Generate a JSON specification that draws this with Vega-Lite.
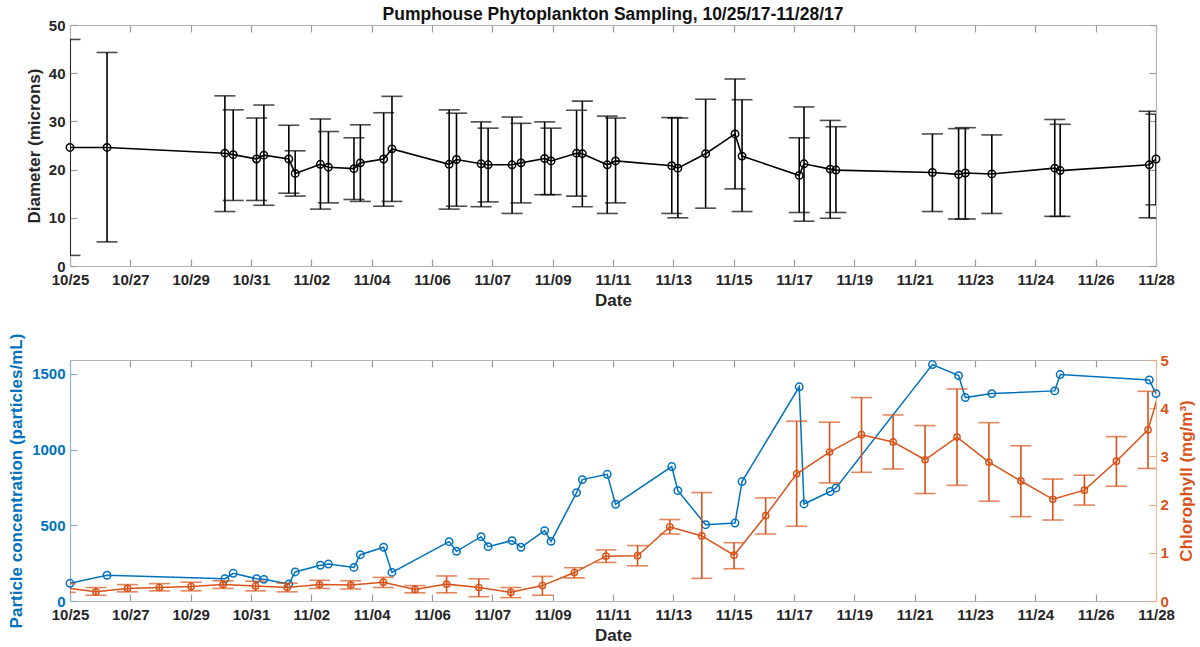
{
  "$schema": "https://vega.github.io/schema/vega-lite/v6.json",
  "background": "white",
  "padding": {"left": 7, "top": 5, "right": 2, "bottom": 2},
  "config": {
    "view": {"stroke": null},
    "font": "Liberation Sans",
    "axis": {
      "labelFont": "Liberation Sans", "labelFontSize": 15, "labelFontWeight": "bold", "labelColor": "#262626",
      "titleFont": "Liberation Sans", "titleFontSize": 17, "titleFontWeight": "bold", "titleColor": "#262626",
      "grid": false, "domainColor": "#b4b4b4", "domainWidth": 1.2, "tickColor": "#9a9a9a", "tickWidth": 1.2,
      "tickSize": -7, "labelPadding": 12
    }
  },
  "datasets": {
    "samples": [
      {"day": 0, "diam": 24.6, "dlo": 2.2, "dhi": 47.0, "conc": 117},
      {"day": 1.16, "diam": 24.6, "dlo": 5.0, "dhi": 44.3, "conc": 170},
      {"day": 4.85, "diam": 23.4, "dlo": 11.3, "dhi": 35.3, "conc": 147},
      {"day": 5.11, "diam": 23.1, "dlo": 13.6, "dhi": 32.4, "conc": 183},
      {"day": 5.84, "diam": 22.2, "dlo": 13.6, "dhi": 30.7, "conc": 147},
      {"day": 6.07, "diam": 23.0, "dlo": 12.6, "dhi": 33.4, "conc": 143},
      {"day": 6.85, "diam": 22.2, "dlo": 15.1, "dhi": 29.2, "conc": 112},
      {"day": 7.05, "diam": 19.2, "dlo": 14.5, "dhi": 23.9, "conc": 192},
      {"day": 7.84, "diam": 21.1, "dlo": 11.8, "dhi": 30.5, "conc": 236},
      {"day": 8.09, "diam": 20.5, "dlo": 13.1, "dhi": 27.9, "conc": 244},
      {"day": 8.89, "diam": 20.2, "dlo": 13.8, "dhi": 26.6, "conc": 222},
      {"day": 9.09, "diam": 21.4, "dlo": 13.4, "dhi": 29.3, "conc": 306},
      {"day": 9.82, "diam": 22.2, "dlo": 12.4, "dhi": 31.8, "conc": 355},
      {"day": 10.08, "diam": 24.3, "dlo": 13.4, "dhi": 35.2, "conc": 189},
      {"day": 11.87, "diam": 21.1, "dlo": 11.8, "dhi": 32.4, "conc": 392},
      {"day": 12.1, "diam": 22.1, "dlo": 12.4, "dhi": 31.7, "conc": 328},
      {"day": 12.87, "diam": 21.2, "dlo": 12.3, "dhi": 29.9, "conc": 425},
      {"day": 13.09, "diam": 21.0, "dlo": 13.3, "dhi": 28.6, "conc": 359},
      {"day": 13.84, "diam": 21.0, "dlo": 10.9, "dhi": 30.9, "conc": 399},
      {"day": 14.12, "diam": 21.4, "dlo": 13.1, "dhi": 29.6, "conc": 355},
      {"day": 14.86, "diam": 22.3, "dlo": 14.8, "dhi": 29.9, "conc": 465},
      {"day": 15.06, "diam": 21.8, "dlo": 14.8, "dhi": 28.6, "conc": 394},
      {"day": 15.86, "diam": 23.4, "dlo": 14.5, "dhi": 32.3, "conc": 716},
      {"day": 16.04, "diam": 23.3, "dlo": 12.3, "dhi": 34.2, "conc": 802},
      {"day": 16.82, "diam": 21.0, "dlo": 10.9, "dhi": 31.1, "conc": 837},
      {"day": 17.08, "diam": 21.8, "dlo": 13.1, "dhi": 30.7, "conc": 639},
      {"day": 18.84, "diam": 20.8, "dlo": 10.9, "dhi": 30.8, "conc": 888},
      {"day": 19.03, "diam": 20.3, "dlo": 10.0, "dhi": 30.7, "conc": 729},
      {"day": 19.9, "diam": 23.3, "dlo": 12.0, "dhi": 34.6, "conc": 504},
      {"day": 20.82, "diam": 27.4, "dlo": 16.0, "dhi": 38.8, "conc": 515},
      {"day": 21.04, "diam": 22.8, "dlo": 11.3, "dhi": 34.5, "conc": 789},
      {"day": 22.83, "diam": 18.8, "dlo": 11.1, "dhi": 26.6, "conc": 1415},
      {"day": 22.98, "diam": 21.2, "dlo": 9.3, "dhi": 33.0, "conc": 641},
      {"day": 23.8, "diam": 20.1, "dlo": 9.9, "dhi": 30.2, "conc": 723},
      {"day": 23.98, "diam": 19.9, "dlo": 11.1, "dhi": 28.9, "conc": 747},
      {"day": 27.0, "diam": 19.4, "dlo": 11.3, "dhi": 27.4, "conc": 1562},
      {"day": 27.82, "diam": 19.0, "dlo": 9.75, "dhi": 28.5, "conc": 1489},
      {"day": 28.03, "diam": 19.3, "dlo": 9.75, "dhi": 28.7, "conc": 1344},
      {"day": 28.86, "diam": 19.1, "dlo": 10.9, "dhi": 27.2, "conc": 1370},
      {"day": 30.83, "diam": 20.3, "dlo": 10.3, "dhi": 30.4, "conc": 1388},
      {"day": 31.0, "diam": 19.8, "dlo": 10.3, "dhi": 29.4, "conc": 1496},
      {"day": 33.79, "diam": 21.0, "dlo": 10.0, "dhi": 32.1, "conc": 1460},
      {"day": 34.0, "diam": 22.2, "dlo": 12.7, "dhi": 31.5, "conc": 1370}
    ],
    "chlorophyll": [
      {"day": -0.15, "chl": 0.27, "clo": 0.18, "chi": 0.36},
      {"day": 0.81, "chl": 0.19, "clo": 0.12, "chi": 0.28},
      {"day": 1.8, "chl": 0.26, "clo": 0.19, "chi": 0.34},
      {"day": 2.8, "chl": 0.28, "clo": 0.21, "chi": 0.36},
      {"day": 3.79, "chl": 0.30, "clo": 0.21, "chi": 0.39},
      {"day": 4.79, "chl": 0.34, "clo": 0.26, "chi": 0.42},
      {"day": 5.81, "chl": 0.31, "clo": 0.21, "chi": 0.41},
      {"day": 6.8, "chl": 0.28, "clo": 0.19, "chi": 0.37},
      {"day": 7.81, "chl": 0.34, "clo": 0.26, "chi": 0.43},
      {"day": 8.79, "chl": 0.33, "clo": 0.25, "chi": 0.42},
      {"day": 9.81, "chl": 0.39, "clo": 0.28, "chi": 0.49},
      {"day": 10.8, "chl": 0.24, "clo": 0.17, "chi": 0.32},
      {"day": 11.79, "chl": 0.35, "clo": 0.17, "chi": 0.52},
      {"day": 12.8, "chl": 0.28, "clo": 0.09, "chi": 0.46},
      {"day": 13.8, "chl": 0.18, "clo": 0.07, "chi": 0.28},
      {"day": 14.79, "chl": 0.32, "clo": 0.12, "chi": 0.51},
      {"day": 15.79, "chl": 0.59, "clo": 0.48, "chi": 0.69},
      {"day": 16.78, "chl": 0.93, "clo": 0.80, "chi": 1.06},
      {"day": 17.77, "chl": 0.94, "clo": 0.73, "chi": 1.15},
      {"day": 18.78, "chl": 1.54, "clo": 1.39, "chi": 1.69},
      {"day": 19.78, "chl": 1.35, "clo": 0.47, "chi": 2.25},
      {"day": 20.79, "chl": 0.95, "clo": 0.67, "chi": 1.21},
      {"day": 21.78, "chl": 1.77, "clo": 1.39, "chi": 2.14},
      {"day": 22.75, "chl": 2.64, "clo": 1.55, "chi": 3.73},
      {"day": 23.78, "chl": 3.09, "clo": 2.45, "chi": 3.71},
      {"day": 24.78, "chl": 3.45, "clo": 2.67, "chi": 4.22},
      {"day": 25.77, "chl": 3.30, "clo": 2.74, "chi": 3.86},
      {"day": 26.77, "chl": 2.93, "clo": 2.23, "chi": 3.64},
      {"day": 27.77, "chl": 3.40, "clo": 2.40, "chi": 4.40},
      {"day": 28.77, "chl": 2.88, "clo": 2.07, "chi": 3.70},
      {"day": 29.77, "chl": 2.49, "clo": 1.75, "chi": 3.22},
      {"day": 30.77, "chl": 2.11, "clo": 1.68, "chi": 2.53},
      {"day": 31.76, "chl": 2.30, "clo": 1.99, "chi": 2.61},
      {"day": 32.76, "chl": 2.90, "clo": 2.38, "chi": 3.41},
      {"day": 33.75, "chl": 3.55, "clo": 2.75, "chi": 4.35},
      {"day": 34.75, "chl": 5.8, "clo": 5.0, "chi": 6.6}
    ]
  },
  "spacing": 94,
  "bounds": "flush",
  "vconcat": [
    {
      "width": 1086,
      "height": 241,
      "title": {"text": "Pumphouse Phytoplankton Sampling, 10/25/17-11/28/17", "font": "Liberation Sans", "fontSize": 17.5, "fontWeight": "bold", "color": "#111111", "offset": -5, "anchor": "middle"},
      "data": {"name": "samples"},
      "layer": [
        {
          "mark": {"type": "rule", "clip": true, "color": "black", "strokeWidth": 1.6},
          "encoding": {
            "x": {"field": "day", "type": "quantitative", "scale": {"domain": [0, 34], "nice": false, "zero": false},
                  "axis": {"orient": "bottom", "title": "Date", "titlePadding": 5, "labelPadding": 13, "values": [0, 1.888889, 3.777778, 5.666667, 7.555556, 9.444444, 11.333333, 13.222222, 15.111111, 17, 18.888889, 20.777778, 22.666667, 24.555556, 26.444444, 28.333333, 30.222222, 32.111111, 34], "labelExpr": "['10/25','10/27','10/29','10/31','11/02','11/04','11/06','11/07','11/09','11/11','11/13','11/15','11/17','11/19','11/21','11/23','11/24','11/26','11/28'][round(datum.value*18/34)]", "labelFlush": false}},
            "y": {"field": "dlo", "type": "quantitative", "scale": {"domain": [0, 50], "nice": false},
                  "axis": {"orient": "left", "title": "Diameter (microns)", "values": [0, 10, 20, 30, 40, 50], "titlePadding": 5}},
            "y2": {"field": "dhi"}
          }
        },
        {
          "mark": {"type": "tick", "orient": "horizontal", "clip": true, "color": "black", "size": 21, "thickness": 1.6},
          "encoding": {
            "x": {"field": "day", "type": "quantitative", "axis": null},
            "y": {"field": "dlo", "type": "quantitative", "axis": null}
          }
        },
        {
          "mark": {"type": "tick", "orient": "horizontal", "clip": true, "color": "black", "size": 21, "thickness": 1.6},
          "encoding": {
            "x": {"field": "day", "type": "quantitative", "axis": null},
            "y": {"field": "dhi", "type": "quantitative", "axis": null}
          }
        },
        {
          "mark": {"type": "line", "clip": true, "color": "black", "strokeWidth": 1.6},
          "encoding": {
            "x": {"field": "day", "type": "quantitative",
                  "axis": {"orient": "top", "labels": false, "title": null, "values": [0, 1.888889, 3.777778, 5.666667, 7.555556, 9.444444, 11.333333, 13.222222, 15.111111, 17, 18.888889, 20.777778, 22.666667, 24.555556, 26.444444, 28.333333, 30.222222, 32.111111, 34]}},
            "y": {"field": "diam", "type": "quantitative",
                  "axis": {"orient": "right", "labels": false, "title": null, "values": [0, 10, 20, 30, 40, 50]}}
          }
        },
        {
          "mark": {"type": "point", "shape": "circle", "filled": false, "size": 55, "strokeWidth": 1.5, "color": "black", "opacity": 1},
          "encoding": {
            "x": {"field": "day", "type": "quantitative", "axis": null},
            "y": {"field": "diam", "type": "quantitative", "axis": null}
          }
        }
      ],
      "resolve": {"axis": {"x": "independent", "y": "independent"}}
    },
    {
      "width": 1086,
      "height": 241,
      "layer": [
        {
          "data": {"name": "samples"},
          "mark": {"type": "line", "clip": true, "color": "#0072BD", "strokeWidth": 1.5},
          "encoding": {
            "x": {"field": "day", "type": "quantitative", "scale": {"domain": [0, 34], "nice": false, "zero": false},
                  "axis": {"orient": "bottom", "title": "Date", "titlePadding": 5, "labelPadding": 13, "values": [0, 1.888889, 3.777778, 5.666667, 7.555556, 9.444444, 11.333333, 13.222222, 15.111111, 17, 18.888889, 20.777778, 22.666667, 24.555556, 26.444444, 28.333333, 30.222222, 32.111111, 34], "labelExpr": "['10/25','10/27','10/29','10/31','11/02','11/04','11/06','11/07','11/09','11/11','11/13','11/15','11/17','11/19','11/21','11/23','11/24','11/26','11/28'][round(datum.value*18/34)]", "labelFlush": false}},
            "y": {"field": "conc", "type": "quantitative", "scale": {"domain": [0, 1592], "nice": false},
                  "axis": {"orient": "left", "title": "Particle concentration (particles/mL)", "values": [0, 500, 1000, 1500], "format": "d", "labelColor": "#0072BD", "titleColor": "#0072BD", "domainColor": "#8ab6da", "tickColor": "#7fb0d8", "titlePadding": 6}}
          }
        },
        {
          "data": {"name": "samples"},
          "mark": {"type": "point", "shape": "circle", "filled": false, "size": 55, "strokeWidth": 1.5, "color": "#0072BD", "opacity": 1},
          "encoding": {
            "x": {"field": "day", "type": "quantitative", "axis": null},
            "y": {"field": "conc", "type": "quantitative", "scale": {"domain": [0, 1592], "nice": false}, "axis": null}
          }
        },
        {
          "data": {"name": "chlorophyll"},
          "mark": {"type": "rule", "clip": true, "color": "#D95319", "strokeWidth": 1.6},
          "encoding": {
            "x": {"field": "day", "type": "quantitative",
                  "axis": {"orient": "top", "labels": false, "title": null, "values": [0, 1.888889, 3.777778, 5.666667, 7.555556, 9.444444, 11.333333, 13.222222, 15.111111, 17, 18.888889, 20.777778, 22.666667, 24.555556, 26.444444, 28.333333, 30.222222, 32.111111, 34]}},
            "y": {"field": "clo", "type": "quantitative", "scale": {"domain": [0, 5], "nice": false},
                  "axis": {"orient": "right", "title": "Chlorophyll (mg/m³)", "values": [0, 1, 2, 3, 4, 5], "labelColor": "#D95319", "titleColor": "#D95319", "domainColor": "#ecb89e", "tickColor": "#e6a98a", "titleAngle": -90, "titleBaseline": "top", "titlePadding": 10, "labelPadding": 11}},
            "y2": {"field": "chi"}
          }
        },
        {
          "data": {"name": "chlorophyll"},
          "mark": {"type": "tick", "orient": "horizontal", "clip": true, "color": "#D95319", "size": 21, "thickness": 1.6},
          "encoding": {
            "x": {"field": "day", "type": "quantitative", "axis": null},
            "y": {"field": "clo", "type": "quantitative", "scale": {"domain": [0, 5], "nice": false}, "axis": null}
          }
        },
        {
          "data": {"name": "chlorophyll"},
          "mark": {"type": "tick", "orient": "horizontal", "clip": true, "color": "#D95319", "size": 21, "thickness": 1.6},
          "encoding": {
            "x": {"field": "day", "type": "quantitative", "axis": null},
            "y": {"field": "chi", "type": "quantitative", "scale": {"domain": [0, 5], "nice": false}, "axis": null}
          }
        },
        {
          "data": {"name": "chlorophyll"},
          "mark": {"type": "line", "clip": true, "color": "#D95319", "strokeWidth": 1.5},
          "encoding": {
            "x": {"field": "day", "type": "quantitative", "axis": null},
            "y": {"field": "chl", "type": "quantitative", "scale": {"domain": [0, 5], "nice": false}, "axis": null}
          }
        },
        {
          "data": {"name": "chlorophyll"},
          "mark": {"type": "point", "clip": true, "shape": "circle", "filled": false, "size": 40, "strokeWidth": 1.4, "color": "#D95319", "opacity": 1},
          "encoding": {
            "x": {"field": "day", "type": "quantitative", "axis": null},
            "y": {"field": "chl", "type": "quantitative", "scale": {"domain": [0, 5], "nice": false}, "axis": null}
          }
        }
      ],
      "resolve": {"scale": {"y": "independent"}, "axis": {"x": "independent", "y": "independent"}}
    }
  ]
}
